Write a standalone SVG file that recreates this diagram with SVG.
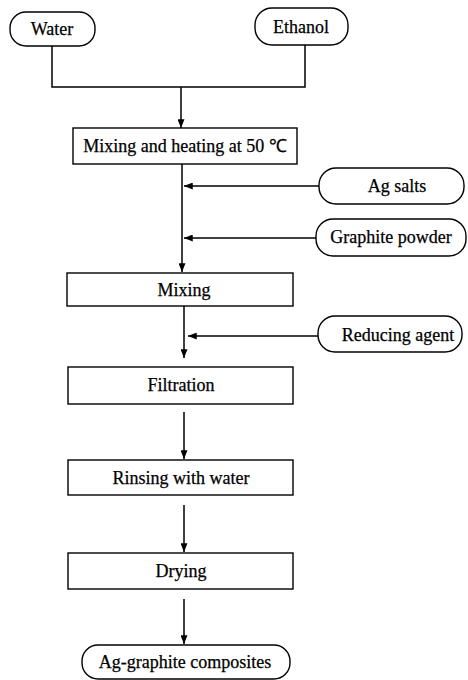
<svg xmlns="http://www.w3.org/2000/svg" width="468" height="680" viewBox="0 0 468 680">
<defs>
<marker id="ah" viewBox="0 0 10 8" refX="10" refY="4" markerWidth="9" markerHeight="7" markerUnits="userSpaceOnUse" orient="auto">
<path d="M0,0 L10,4 L0,8 z" fill="#000"/>
</marker>
<style>
rect{fill:#fff;stroke:#000;stroke-width:1.4}
text{font-family:"Liberation Serif","Times New Roman",serif;font-size:18px;fill:#000;stroke:#000;stroke-width:0.25;text-anchor:middle}
.c{fill:none;stroke:#000;stroke-width:1.5}
.a{marker-end:url(#ah)}
</style>
</defs>
<rect width="468" height="680" style="fill:#fff;stroke:none"/>
<g id="connectors">
<path class="c" d="M52,46 V87 H305 V45"/>
<path class="c a" d="M181,87 V128"/>
<path class="c a" d="M182,164 V272"/>
<path class="c a" d="M319,186 H184"/>
<path class="c a" d="M316,238 H184"/>
<path class="c a" d="M184,306 V358"/>
<path class="c a" d="M318,336 H188"/>
<path class="c a" d="M184,412 V459"/>
<path class="c a" d="M184,505 V552"/>
<path class="c a" d="M184,599 V644"/>
</g>
<g id="water"><rect x="10" y="12" width="85" height="34" rx="16"/><text x="52" y="35">Water</text></g>
<g id="ethanol"><rect x="255" y="8" width="93" height="37" rx="17"/><text x="301" y="33">Ethanol</text></g>
<g id="mixheat"><rect x="73" y="128" width="224" height="36"/><text x="185" y="152">Mixing and heating at 50 ℃</text></g>
<g id="agsalts"><rect x="319" y="168" width="145" height="36" rx="17"/><text x="397" y="192">Ag salts</text></g>
<g id="graphite"><rect x="316" y="219" width="150" height="37" rx="17"/><text x="391" y="243">Graphite powder</text></g>
<g id="mixing"><rect x="67" y="273" width="226" height="33"/><text x="184" y="296">Mixing</text></g>
<g id="reducing"><rect x="318" y="316" width="144" height="36" rx="17"/><text x="398" y="341">Reducing agent</text></g>
<g id="filtration"><rect x="68" y="367" width="225" height="37"/><text x="181" y="391">Filtration</text></g>
<g id="rinsing"><rect x="68" y="460" width="225" height="35"/><text x="181" y="484">Rinsing with water</text></g>
<g id="drying"><rect x="68" y="553" width="225" height="36"/><text x="181" y="577">Drying</text></g>
<g id="product"><rect x="82" y="645" width="208" height="34" rx="16"/><text x="185" y="668">Ag-graphite composites</text></g>
</svg>
